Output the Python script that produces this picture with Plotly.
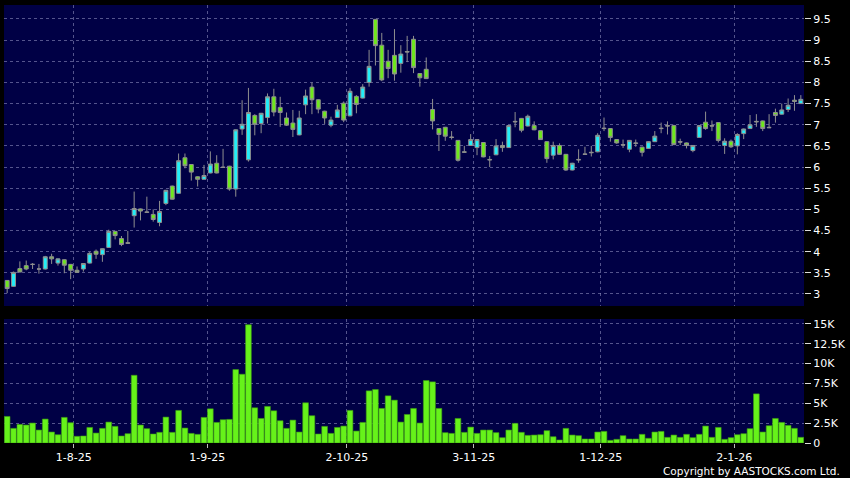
import pandas as pd
import plotly.graph_objects as go
from plotly.subplots import make_subplots

# ---------------- data ----------------
hk_holidays = ["2025-10-01", "2025-10-07", "2025-10-29", "2025-12-25", "2025-12-26", "2026-01-01"]
dates = [d.strftime("%Y-%m-%d") for d in pd.bdate_range("2025-07-17", "2026-01-16")
         if d.strftime("%Y-%m-%d") not in hk_holidays]

open_ = [3.32, 3.18, 3.60, 3.67, 3.70, 3.59, 3.59, 3.88, 3.73, 3.81,
         3.70, 3.56, 3.59, 3.73, 4.01, 3.93, 4.10, 4.48, 4.31, 4.21,
         4.85, 5.01, 4.94, 4.88, 4.69, 5.14, 5.55, 5.38, 6.22, 6.06,
         5.77, 5.71, 5.86, 6.09, 6.00, 6.02, 5.48, 6.90, 6.17, 7.22,
         7.03, 7.17, 7.66, 7.41, 7.16, 7.04, 6.76, 7.47, 7.89, 7.59,
         7.32, 6.99, 7.17, 7.51, 7.21, 7.67, 7.63, 8.00, 9.49, 8.88,
         8.50, 8.64, 8.45, 8.73, 9.02, 8.21, 8.31, 7.36, 6.91, 6.94,
         6.71, 6.63, 6.36, 6.51, 6.46, 6.58, 6.18, 6.29, 6.51, 6.46,
         7.08, 7.15, 6.97, 6.98, 6.86, 6.60, 6.28, 6.51, 6.30, 5.93,
         6.18, 6.31, 6.35, 6.36, 6.92, 6.91, 6.65, 6.53, 6.42, 6.57,
         6.47, 6.44, 6.60, 6.92, 6.98, 6.98, 6.60, 6.57, 6.39, 6.70,
         7.06, 6.98, 7.05, 6.51, 6.61, 6.50, 6.79, 6.91, 7.08, 7.09,
         6.94, 7.29, 7.25, 7.36, 7.58, 7.50]
high = [3.33, 3.53, 3.77, 3.79, 3.73, 3.71, 3.90, 3.95, 3.84, 3.82,
        3.71, 3.65, 3.73, 3.99, 4.05, 4.08, 4.52, 4.49, 4.37, 4.49,
        5.42, 5.02, 5.30, 5.00, 5.20, 5.46, 5.56, 6.32, 6.32, 6.07,
        5.78, 6.05, 6.37, 6.28, 6.43, 6.03, 6.89, 7.58, 7.87, 7.25,
        7.28, 7.74, 7.85, 7.66, 7.29, 7.35, 7.33, 7.83, 8.00, 7.60,
        7.33, 7.19, 7.47, 7.55, 7.87, 7.70, 7.96, 8.77, 9.50, 9.17,
        8.77, 9.26, 8.88, 9.10, 9.10, 8.22, 8.59, 7.61, 6.92, 6.95,
        6.85, 6.64, 6.50, 6.78, 6.66, 6.59, 6.26, 6.66, 6.60, 6.99,
        7.30, 7.16, 7.24, 7.08, 6.87, 6.61, 6.60, 6.56, 6.31, 6.10,
        6.42, 6.48, 6.50, 6.80, 7.17, 6.92, 6.66, 6.65, 6.64, 6.65,
        6.48, 6.61, 6.85, 7.05, 7.08, 7.00, 6.67, 6.58, 6.52, 6.99,
        7.31, 7.10, 7.06, 6.68, 6.65, 6.80, 6.91, 7.23, 7.25, 7.10,
        7.25, 7.38, 7.50, 7.62, 7.70, 7.70]
low = [3.02, 3.17, 3.51, 3.56, 3.59, 3.48, 3.58, 3.71, 3.67, 3.49,
       3.35, 3.50, 3.53, 3.72, 3.83, 3.76, 4.09, 4.29, 4.13, 4.19,
       4.57, 4.74, 4.92, 4.71, 4.60, 5.10, 5.23, 5.37, 5.97, 5.68,
       5.54, 5.70, 5.85, 5.85, 5.98, 5.44, 5.30, 6.76, 6.13, 6.75,
       6.80, 7.03, 7.20, 6.95, 6.97, 6.71, 6.75, 7.25, 7.25, 7.27,
       7.02, 6.94, 7.16, 7.06, 7.20, 7.27, 7.62, 7.90, 8.40, 8.03,
       8.10, 8.04, 8.23, 8.48, 8.22, 7.90, 8.08, 6.89, 6.38, 6.62,
       6.65, 6.13, 6.34, 6.50, 6.28, 6.23, 6.00, 6.28, 6.36, 6.45,
       6.94, 6.82, 6.96, 6.87, 6.64, 6.10, 6.18, 6.29, 5.91, 5.92,
       6.10, 6.29, 6.25, 6.35, 6.85, 6.60, 6.55, 6.45, 6.35, 6.48,
       6.25, 6.43, 6.59, 6.80, 6.77, 6.52, 6.52, 6.44, 6.35, 6.69,
       6.88, 6.85, 6.58, 6.31, 6.45, 6.30, 6.66, 6.90, 6.95, 6.85,
       6.92, 7.05, 7.24, 7.30, 7.33, 7.49]
close = [3.13, 3.51, 3.52, 3.59, 3.70, 3.59, 3.88, 3.83, 3.83, 3.68,
         3.56, 3.51, 3.72, 3.96, 3.94, 4.07, 4.48, 4.38, 4.17, 4.20,
         5.02, 4.96, 4.93, 4.76, 4.95, 5.45, 5.24, 6.15, 6.03, 5.88,
         5.71, 5.80, 6.07, 5.86, 5.99, 5.48, 6.88, 7.01, 7.29, 7.01,
         7.27, 7.66, 7.30, 7.29, 6.99, 6.89, 7.16, 7.68, 7.59, 7.37,
         7.16, 7.11, 7.35, 7.11, 7.79, 7.48, 7.89, 8.38, 8.87, 8.06,
         8.33, 8.20, 8.67, 8.72, 8.35, 8.11, 8.09, 7.09, 6.77, 6.73,
         6.70, 6.16, 6.35, 6.65, 6.65, 6.24, 6.17, 6.50, 6.46, 6.98,
         7.07, 6.87, 7.20, 6.88, 6.65, 6.20, 6.51, 6.30, 5.93, 6.09,
         6.17, 6.30, 6.34, 6.75, 6.91, 6.70, 6.57, 6.52, 6.63, 6.56,
         6.35, 6.60, 6.73, 6.91, 6.97, 6.53, 6.59, 6.51, 6.51, 6.98,
         6.91, 6.97, 6.63, 6.61, 6.48, 6.77, 6.90, 7.00, 7.07, 6.91,
         6.93, 7.22, 7.35, 7.46, 7.55, 7.60]
volume = [3340, 1840, 2340, 2260, 2510, 1630, 3010, 1380, 1040, 3220,
          2550, 840, 880, 1960, 1250, 1840, 2630, 2090, 880, 1170,
          8520, 2260, 1800, 1130, 1340, 3260, 1340, 4100, 1880, 1210,
          1090, 3220, 4300, 2590, 2930, 2970, 9240, 8650, 14880, 4430,
          3090, 4600, 4050, 2800, 1840, 2880, 1380, 5060, 3430, 1130,
          2090, 1210, 1960, 2130, 4100, 1500, 2590, 6560, 6730, 4350,
          5930, 5390, 2630, 3590, 4350, 2510, 7860, 7690, 4350, 1300,
          1210, 3090, 1340, 2000, 1210, 1630, 1630, 1300, 670, 1630,
          2470, 1340, 960, 1000, 1040, 1550, 790, 380, 1840, 1000,
          920, 500, 500, 1380, 1460, 330, 460, 920, 500, 500,
          1090, 590, 1380, 1460, 710, 1000, 710, 1090, 670, 1090,
          2130, 710, 1960, 460, 670, 1040, 1170, 1800, 6180, 1380,
          2170, 3090, 2590, 2210, 1840, 710]

month_starts = ["2025-08-01", "2025-09-01", "2025-10-02", "2025-11-03", "2025-12-01", "2026-01-02"]
month_labels = ["1-8-25", "1-9-25", "2-10-25", "3-11-25", "1-12-25", "2-1-26"]
price_ticks = [3, 3.5, 4, 4.5, 5, 5.5, 6, 6.5, 7, 7.5, 8, 8.5, 9, 9.5]
price_labels = ["3", "3.5", "4", "4.5", "5", "5.5", "6", "6.5", "7", "7.5", "8", "8.5", "9", "9.5"]
vol_ticks = [0, 2500, 5000, 7500, 10000, 12500, 15000]
vol_labels = ["0", "2.5K", "5K", "7.5K", "10K", "12.5K", "15K"]

# ---------------- figure ----------------
x = list(range(len(dates)))
month_pos = [dates.index(d) - 0.5 for d in month_starts]

GRID = "rgba(140,140,190,0.6)"
DASH = "3px,3px"
FONT = dict(family="DejaVu Sans", size=11, color="#ffffff")

fig = make_subplots(rows=2, cols=1, shared_xaxes=True)

fig.add_trace(go.Candlestick(
    x=x, open=open_, high=high, low=low, close=close,
    increasing=dict(line=dict(color="#8f8f8f", width=1), fillcolor="#22EEF8"),
    decreasing=dict(line=dict(color="#8f8f8f", width=1), fillcolor="#6EE81C"),
    whiskerwidth=0, showlegend=False, name="Price"), row=1, col=1)

fig.add_trace(go.Bar(
    x=x, y=volume,
    marker=dict(color="#66F21A", line=dict(color="#3E9E12", width=0.6)),
    showlegend=False, name="Volume"), row=2, col=1)

fig.update_layout(
    width=850, height=478,
    margin=dict(l=4, r=43, t=5, b=35),
    paper_bgcolor="#000000",
    plot_bgcolor="#000045",
    font=FONT,
    boxgap=0.12,
    bargap=0.1,
    showlegend=False,
    xaxis=dict(range=[-0.5, len(dates) - 0.5], rangeslider=dict(visible=False),
               tickvals=month_pos, ticktext=month_labels, showticklabels=False,
               showgrid=True, gridcolor=GRID, griddash=DASH, gridwidth=1,
               zeroline=False, ticks=""),
    xaxis2=dict(range=[-0.5, len(dates) - 0.5], tickvals=month_pos, ticktext=month_labels,
                showgrid=True, gridcolor=GRID, griddash=DASH, gridwidth=1,
                zeroline=False, ticks="outside", ticklen=4, tickcolor="#bbbbbb",
                tickfont=FONT, matches="x"),
    yaxis=dict(domain=[0.3128, 1.0], range=[2.716, 9.83], side="right",
               tickvals=price_ticks, ticktext=price_labels,
               showgrid=True, gridcolor=GRID, griddash=DASH, gridwidth=1,
               zeroline=False, ticks="outside", ticklen=6, tickcolor="#dddddd",
               tickfont=FONT),
    yaxis2=dict(domain=[0.0, 0.2831], range=[0, 15600], side="right",
                tickvals=vol_ticks, ticktext=vol_labels,
                showgrid=True, gridcolor=GRID, griddash=DASH, gridwidth=1,
                zeroline=False, ticks="outside", ticklen=6, tickcolor="#dddddd",
                tickfont=FONT),
    annotations=[dict(text="Copyright by AASTOCKS.com Ltd.", xref="paper", yref="paper",
                      x=1.0475, y=-0.064, xanchor="right", yanchor="middle", showarrow=False,
                      font=dict(family="DejaVu Sans", size=10.5, color="#ffffff"))],
)

fig.write_html("out.html",
               config={"displayModeBar": False},
               post_script="document.body.style.margin='0px';"
                           "document.body.style.background='#000000';")
